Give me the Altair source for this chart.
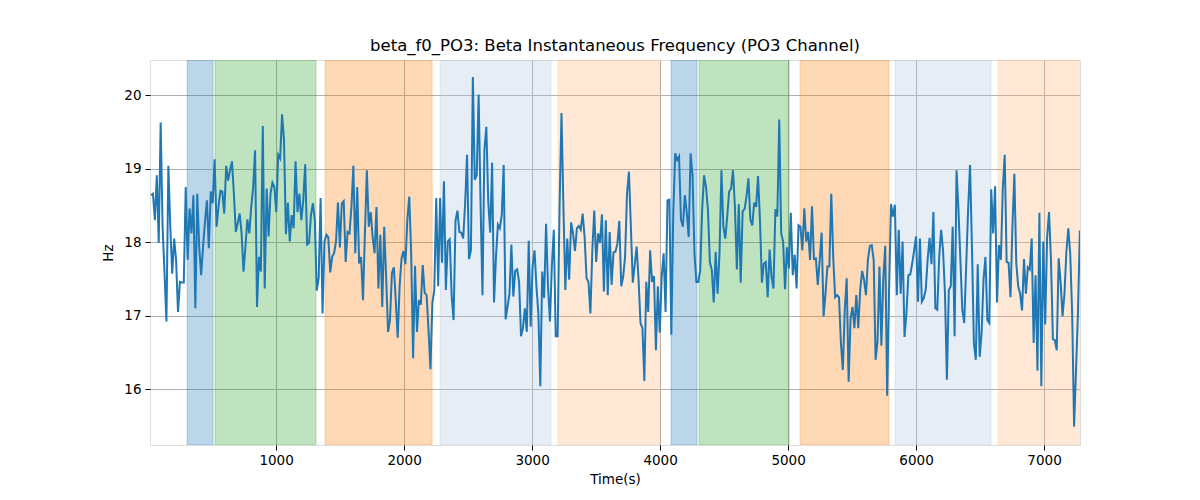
import altair as alt
import pandas as pd
import numpy as np

# ---- data ----
T_START = 23
T_END = 7280

hz = [
    # ~0-900 s
    18.64, 18.66, 18.30, 18.91, 17.99, 19.63, 18.21, 17.58, 16.92, 19.04,
    18.21, 17.57, 18.05, 17.76, 17.05, 17.46, 17.45, 17.45, 18.75, 17.76,
    18.46, 18.12, 18.64, 17.10, 18.66, 17.94, 17.55, 17.94, 18.28, 18.57,
    17.92, 18.69, 18.53, 19.13, 18.21, 18.48, 18.70, 18.69, 18.39, 19.04,
    18.84, 18.98, 19.10, 18.66, 18.14, 18.26, 18.39, 18.12, 17.60, 17.94,
    18.31, 18.12, 18.48, 18.75, 19.25, 17.12, 17.80, 17.60, 19.58,
    # ~900-1800 s
    17.37, 18.73, 18.08, 18.66, 18.81, 18.75, 18.41, 19.19, 19.14, 19.74,
    19.39, 18.11, 18.54, 18.01, 18.37, 18.19, 19.10, 18.41, 18.66, 18.30,
    18.57, 19.06, 17.97, 17.99, 18.37, 18.53, 18.30, 17.34, 17.51, 18.60,
    17.03, 18.01, 18.10, 18.07, 17.59, 17.80, 17.85, 18.01, 18.54, 17.93,
    18.53, 18.56, 17.73, 18.14, 18.12, 18.48, 19.04, 17.85, 18.75, 17.71,
    17.80, 17.21, 18.12, 18.98, 18.21, 18.41, 18.07, 17.85, 18.48, 17.37,
    # ~1800-2700 s
    18.10, 17.12, 18.21, 17.53, 16.78, 16.94, 17.58, 17.66, 17.21, 16.70,
    17.40, 17.78, 17.88, 17.70, 18.30, 18.62, 17.85, 16.42, 17.68, 16.78,
    17.21, 17.15, 17.69, 17.31, 17.28, 16.81, 16.27, 17.17, 17.35, 18.60,
    17.40, 18.60, 17.72, 18.83, 17.35, 18.01, 18.04, 17.28, 16.94, 18.29,
    18.43, 18.14, 18.13, 18.05, 18.53, 19.19, 17.77, 17.89, 20.25, 18.85,
    18.91, 20.01, 18.53, 17.28, 19.26, 19.57, 18.55, 18.13, 19.08, 17.18,
    # ~2700-3600 s
    17.80, 18.24, 18.19, 18.37, 19.05, 16.95, 17.12, 17.30, 17.97, 17.26,
    17.61, 17.63, 17.46, 16.72, 16.83, 17.10, 16.78, 18.02, 16.85, 17.67,
    17.89, 17.40, 17.03, 16.04, 17.60, 17.24, 18.25, 17.40, 16.92, 17.67,
    18.17, 16.72, 16.72, 18.48, 19.76, 18.48, 17.35, 18.05, 17.49, 18.27,
    18.12, 17.88, 18.19, 18.22, 18.17, 18.39, 18.07, 17.51, 17.46, 17.03,
    17.89, 18.43, 17.73, 18.12, 17.99, 18.38, 17.33, 18.30, 17.28, 18.14,
    # ~3600-4500 s
    17.42, 17.86, 17.87, 17.98, 18.29, 17.40, 17.53, 17.80, 18.66, 18.96,
    18.21, 17.45, 17.69, 17.94, 17.49, 16.90, 16.83, 16.11, 17.46, 17.05,
    17.89, 17.46, 17.54, 16.53, 17.40, 16.77, 17.53, 17.85, 17.05, 18.57,
    18.58, 16.74, 18.39, 19.21, 19.12, 19.17, 18.31, 18.21, 18.64, 18.41,
    18.07, 19.21, 18.91, 17.85, 17.46, 17.46, 17.62, 18.45, 18.91, 18.75,
    18.44, 17.73, 17.62, 17.18, 17.87, 17.30, 17.85, 18.98, 18.21,
    # ~4500-5400 s
    18.05, 18.35, 18.69, 18.73, 18.98, 18.48, 17.63, 18.52, 17.45, 18.42,
    18.45, 18.62, 18.87, 18.31, 18.23, 18.54, 18.48, 18.90, 18.30, 17.45,
    17.71, 17.73, 17.25, 17.90, 17.53, 17.37, 18.45, 18.35, 19.67, 18.12,
    18.01, 17.36, 17.93, 17.64, 18.40, 17.55, 17.83, 17.37, 18.23, 18.21,
    17.89, 18.46, 18.01, 18.14, 17.76, 18.49, 17.77, 17.78, 17.42, 17.76,
    18.13, 16.99, 17.30, 17.67, 17.67, 18.66, 17.80, 17.25, 17.28, 17.25, 16.63,
    # ~5400-6300 s
    16.26, 17.08, 17.51, 16.10, 16.96, 17.12, 16.83, 17.28, 16.83, 17.35,
    17.61, 17.49, 17.28, 17.76, 17.95, 17.96, 17.76, 16.40, 16.65, 17.67,
    16.59, 17.51, 17.95, 15.91, 17.35, 18.52, 18.35, 18.51, 17.28, 18.17,
    17.30, 18.01, 16.71, 17.03, 17.55, 17.56, 17.71, 17.89, 18.08, 17.19,
    18.05, 17.19, 17.24, 17.35, 17.76, 18.06, 17.70, 18.41, 17.10, 17.08,
    17.80, 18.17, 17.89, 17.30, 16.13, 17.35, 17.40, 18.21, 16.72,
    # ~6300-7280 s
    18.98, 18.44, 17.76, 17.08, 16.90, 17.67, 18.44, 19.05, 17.94, 16.63,
    16.40, 17.70, 16.44, 16.76, 17.49, 17.80, 16.94, 16.90, 18.72, 18.12,
    18.76, 17.18, 17.96, 17.76, 18.73, 19.19, 17.73, 17.72, 17.25, 18.21,
    18.93, 17.71, 17.40, 17.30, 17.07, 17.77, 17.30, 17.66, 17.63, 18.05,
    16.63, 17.55, 16.25, 18.40, 16.04, 18.01, 16.88, 18.07, 18.41, 17.76,
    16.68, 16.67, 16.53, 17.78, 17.46, 16.99, 17.30, 17.87, 18.19, 17.84,
    17.03, 15.49, 16.26, 17.03, 18.16,
]

band_start = [305, 523, 1383, 2281, 3203, 4086, 4305, 5094, 5836, 6641]
band_end = [508, 1312, 2219, 3148, 4000, 4289, 5008, 5789, 6586, 7300]
band_kind = ["A", "B", "C", "D", "E", "A", "B", "C", "D", "E"]

x_ticks = [1000, 2000, 3000, 4000, 5000, 6000, 7000]
y_ticks = [16, 17, 18, 19, 20]
X_DOMAIN = [15, 7281]
Y_DOMAIN = [15.24, 20.48]

# ---- chart ----
times = np.linspace(T_START, T_END, len(hz))
df = pd.DataFrame({"t": times, "hz": hz})
bands = pd.DataFrame({"start": band_start, "end": band_end, "kind": band_kind})

FONT = "DejaVu Sans"
xscale = alt.Scale(domain=X_DOMAIN, nice=False, zero=False)
yscale = alt.Scale(domain=Y_DOMAIN, nice=False, zero=False)
kind_scale = alt.Scale(
    domain=["A", "B", "C", "D", "E"],
    range=["#1f77b4", "#2ca02c", "#ff7f0e", "#b0c4de", "#ffb677"],
)

xaxis = alt.Axis(
    values=x_ticks, format="d", title="Time(s)", grid=True,
    gridColor="#b0b0b0", gridWidth=1, domain=False,
    tickColor="black", tickSize=5, labelPadding=3,
    labelFont=FONT, labelFontSize=13.5, labelColor="black",
    titleFont=FONT, titleFontSize=13.5, titleFontWeight="normal",
    titleColor="black", titlePadding=6, labelFlush=False,
)
yaxis = alt.Axis(
    values=y_ticks, format="d", title="Hz", grid=True,
    gridColor="#b0b0b0", gridWidth=1, domain=False,
    tickColor="black", tickSize=5, labelPadding=4,
    labelFont=FONT, labelFontSize=13.5, labelColor="black",
    titleFont=FONT, titleFontSize=13.5, titleFontWeight="normal",
    titleColor="black", titlePadding=8, labelFlush=False,
)

band_layer = alt.Chart(bands).mark_rect(
    fillOpacity=0.3, strokeOpacity=0.3, strokeWidth=1, clip=True
).encode(
    x=alt.X("start:Q", scale=xscale, axis=xaxis),
    x2="end:Q",
    fill=alt.Fill("kind:N", scale=kind_scale, legend=None),
    stroke=alt.Stroke("kind:N", scale=kind_scale, legend=None),
)

line_layer = alt.Chart(df).mark_line(
    color="#1f77b4", strokeWidth=2, clip=True
).encode(
    x=alt.X("t:Q", scale=xscale, axis=xaxis),
    y=alt.Y("hz:Q", scale=yscale, axis=yaxis),
)

chart = alt.layer(band_layer, line_layer).properties(
    width=930,
    height=385,
    title=alt.Title(
        "beta_f0_PO3: Beta Instantaneous Frequency (PO3 Channel)",
        font=FONT, fontSize=16.5, fontWeight="normal", color="black",
        anchor="middle", offset=6,
    ),
    autosize=alt.AutoSizeParams(type="none"),
    padding={"left": 142, "top": 52, "right": 110, "bottom": 50},
).configure_view(
    stroke="black", strokeWidth=1
).configure(background="white")

chart.save("out.html", embed_options={"renderer": "svg", "actions": False})
